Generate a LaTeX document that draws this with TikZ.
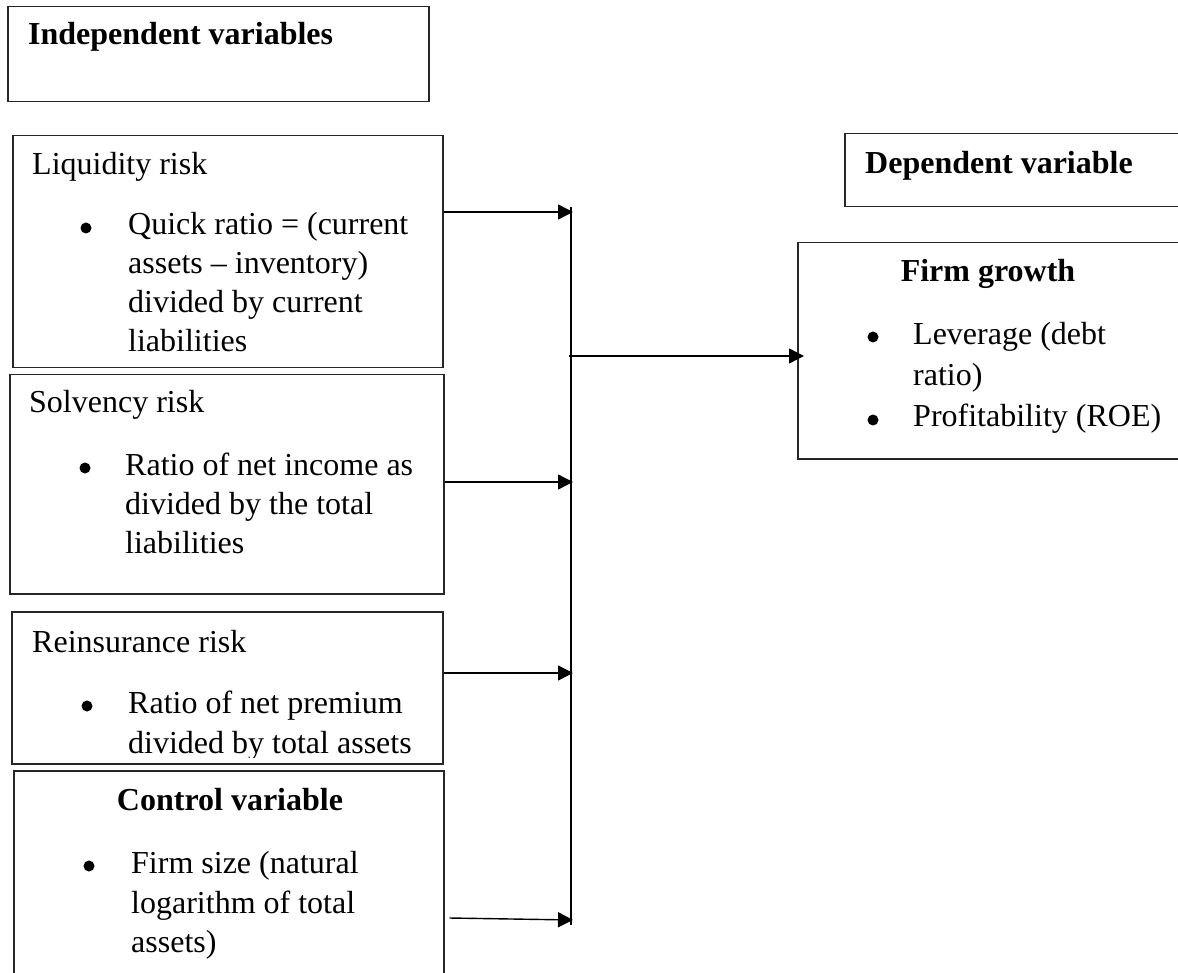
\documentclass[tikz,border=0pt]{standalone}
\usepackage{fontspec}
\setmainfont{Liberation Serif}
\usetikzlibrary{arrows.meta}
\begin{document}
\begin{tikzpicture}[x=1pt,y=-1pt,
  box/.style={draw=black!85, line width=1.5pt, rectangle, inner sep=0pt, anchor=north west},
  txt/.style={anchor=base west, inner sep=0pt, font=\fontsize{32}{40}\selectfont},
  btxt/.style={anchor=base west, inner sep=0pt, font=\fontsize{32}{40}\selectfont\bfseries},
  dot/.style={circle, fill=black, inner sep=0pt, minimum size=11pt},
  bus/.style={line width=1.4pt},
  arr/.style={line width=1.4pt, -{Triangle[length=15pt,width=15pt]}}]
\useasboundingbox (0,0) rectangle (1178,973);
\clip (0,0) rectangle (1178,973);

% boxes
\node[box, minimum width=421pt, minimum height=95pt] (indep) at (7,6) {};
\node[box, minimum width=430pt, minimum height=232pt] (liq) at (12,135) {};
\node[box, minimum width=434pt, minimum height=219pt] (solv) at (9,374) {};
\node[box, minimum width=431pt, minimum height=152pt] (rein) at (11,611) {};
\node[box, minimum width=430pt, minimum height=240pt] (ctl) at (13,770) {};
\node[box, minimum width=360pt, minimum height=73pt] (dep) at (844,133) {};
\node[box, minimum width=400pt, minimum height=216pt] (firm) at (797,242) {};

% texts
\node[btxt] (tindep) at (28,45) {Independent variables};

\node[txt] (tliq) at (32,175) {Liquidity risk};
\node[dot] (dliq) at (86,228) {};
\node[txt] (tliq1) at (128,235) {Quick ratio = (current};
\node[txt] (tliq2) at (128,274) {assets – inventory)};
\node[txt] (tliq3) at (128,313) {divided by current};
\node[txt] (tliq4) at (128,352) {liabilities};

\node[txt] (tsolv) at (29,413) {Solvency risk};
\node[dot] (dsolv) at (85,468) {};
\node[txt] (tsolv1) at (125,475) {Ratio of net income as};
\node[txt] (tsolv2) at (125,514) {divided by the total};
\node[txt] (tsolv3) at (125,553) {liabilities};

\begin{scope}
\clip (11,611) rectangle (442,757);
\node[txt] (trein) at (32,652) {Reinsurance risk};
\node[dot] (drein) at (87,706) {};
\node[txt] (trein1) at (128,713) {Ratio of net premium};
\node[txt] (trein2) at (128,753) {divided by total assets};
\end{scope}

\node[btxt, anchor=base] (tctl) at (230,810) {Control variable};
\node[dot] (dctl) at (89,866) {};
\node[txt] (tctl1) at (131,873) {Firm size (natural};
\node[txt] (tctl2) at (131,913) {logarithm of total};
\node[txt] (tctl3) at (131,952) {assets)};

\node[btxt] (tdep) at (865,174) {Dependent variable};

\node[btxt, anchor=base] (tfirm) at (988,282) {Firm growth};
\node[dot] (dfirm1) at (873,337) {};
\node[txt] (tfirm1) at (913,345) {Leverage (debt};
\node[txt] (tfirm2) at (913,385) {ratio)};
\node[dot] (dfirm2) at (873,420) {};
\node[txt] (tfirm3) at (913,427) {Profitability (ROE)};

% bus and arrows
\coordinate (bt) at (571,207);
\coordinate (bb) at (571,925);
\draw[bus] (bt) -- (bb);

\coordinate (b1) at (573,212);
\coordinate (b2) at (573,482);
\coordinate (b3) at (573,673);
\coordinate (b4) at (573,920);
\coordinate (bf) at (569,356);

\draw[arr] (liq.east |- b1) -- (b1);
\draw[arr] (solv.east |- b2) -- (b2);
\draw[arr] (rein.east |- b3) -- (b3);
\draw[arr] ([xshift=5pt]ctl.east |- 0,918) -- (b4);
\draw[arr] (bf) -- ([xshift=7pt]firm.west |- bf);
\end{tikzpicture}
\end{document}
